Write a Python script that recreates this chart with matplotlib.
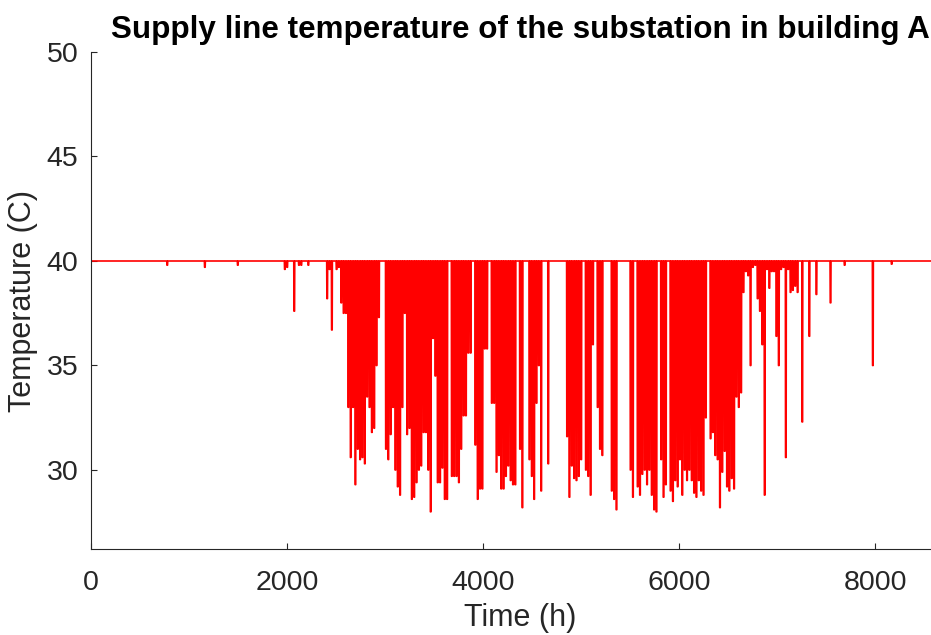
import numpy as np
import matplotlib.pyplot as plt

# --- data (daily minimum of the supply temperature) ---
# baseline supply temperature (C)
BASE_TEMP = 40.0

# heating-off season, one value per day starting at day 100
SEASON_START_DAY = 100
season_min = [
    38.2, 39.6, 36.7, 40.0, 39.6, 39.7, 38.0, 37.5, 37.5, 33.0,   # 100-109
    30.6, 33.0, 29.3, 31.0, 30.5, 30.6, 30.3, 33.5, 33.0, 31.8,   # 110-119
    32.0, 35.0, 37.3, 40.0, 40.0, 31.0, 30.5, 31.7, 33.0, 30.0,   # 120-129
    29.2, 28.8, 33.0, 37.5, 31.7, 32.0, 28.6, 28.7, 29.4, 30.0,   # 130-139
    30.2, 31.8, 31.8, 30.0, 28.0, 36.3, 34.5, 29.4, 29.4, 30.1,   # 140-149
    28.6, 28.6, 40.0, 29.7, 29.7, 29.7, 29.4, 31.0, 32.6, 32.6,   # 150-159
    35.6, 35.6, 40.0, 31.2, 28.6, 29.1, 29.1, 35.8, 35.8, 40.0,   # 160-169
    33.2, 33.2, 29.9, 30.7, 29.1, 29.1, 29.7, 30.2, 29.5, 29.3,   # 170-179
    29.3, 40.0, 31.0, 28.2, 40.0, 40.0, 30.5, 29.7, 28.6, 33.2,   # 180-189
    35.0, 29.0, 40.0, 40.0, 30.3, 40.0, 40.0, 40.0, 40.0, 40.0,   # 190-199
    40.0, 40.0, 31.6, 28.7, 30.2, 29.6, 29.5, 29.7, 30.5, 40.0,   # 200-209
    30.0, 29.7, 28.8, 36.0, 40.0, 33.0, 31.0, 30.7, 40.0, 40.0,   # 210-219
    40.0, 29.0, 28.6, 28.1, 40.0, 40.0, 40.0, 40.0, 40.0, 30.0,   # 220-229
    28.7, 40.0, 29.2, 28.8, 29.8, 30.0, 29.3, 30.0, 28.8, 28.1,   # 230-239
    28.0, 40.0, 30.5, 28.7, 29.3, 40.0, 29.0, 28.5, 29.5, 29.2,   # 240-249
    30.5, 28.8, 30.0, 29.5, 30.0, 29.5, 28.9, 28.7, 29.5, 29.0,   # 250-259
    28.8, 32.5, 40.0, 31.5, 31.8, 30.7, 30.5, 28.2, 29.9, 30.9,   # 260-269
    29.2, 29.0, 29.6, 29.1, 33.5, 33.0, 33.7, 38.5, 39.5, 39.3,   # 270-279
    35.0, 39.7, 39.8, 38.2, 37.6, 36.0, 28.8, 39.6, 38.7, 39.5,   # 280-289
    39.5, 36.4, 35.0, 39.6, 39.7, 30.6, 39.6, 38.5, 38.6, 38.8,   # 290-299
    38.5,                                                          # 300
]

# isolated dips outside the season
other_dip_days = [32, 48, 62, 82, 83, 86, 88, 89, 92, 302, 305, 308, 314, 320, 332, 340]
other_dip_min = [39.8, 39.7, 39.8, 39.6, 39.7, 37.6, 39.8, 39.8, 39.8,
                 32.3, 36.4, 38.4, 38.0, 39.8, 35.0, 39.85]

N_HOURS = 8760

# --- build the hourly series from the daily values ---
day_min = {SEASON_START_DAY + i: v for i, v in enumerate(season_min)}
day_min.update(dict(zip(other_dip_days, other_dip_min)))

hours = np.arange(N_HOURS)
temp = np.full(N_HOURS, BASE_TEMP)
for d, m in day_min.items():
    if m < BASE_TEMP:
        temp[24 * d + 6:24 * d + 14] = m

# --- plot ---
plt.rcParams['font.family'] = ['Liberation Sans', 'DejaVu Sans']
grey = '#262626'

fig = plt.figure(figsize=(9.31, 6.35), dpi=100)
ax = fig.add_axes([91 / 931, 1 - 549 / 635, 858.5 / 931, 497 / 635])

ax.plot(hours, temp, color='red', linewidth=1.2)

ax.set_xlim(0, N_HOURS)
ax.set_ylim(26.22, 50)
ax.set_xticks([0, 2000, 4000, 6000, 8000])
ax.set_yticks([30, 35, 40, 45, 50])

for side in ['top', 'right']:
    ax.spines[side].set_visible(False)
for side in ['left', 'bottom']:
    ax.spines[side].set_color(grey)
    ax.spines[side].set_linewidth(0.8)

ax.tick_params(axis='both', direction='in', length=4.5, width=0.8,
               colors=grey, labelsize=20.5)
ax.tick_params(axis='x', pad=15)
ax.tick_params(axis='y', pad=9)

ax.set_xlabel('Time (h)', fontsize=22, color=grey, labelpad=5)
ax.set_ylabel('Temperature (C)', fontsize=22, color=grey, labelpad=6)
ax.set_title('Supply line temperature of the substation in building A',
             fontsize=22.6, fontweight='bold', color='black', pad=10)

fig.savefig('out.png', dpi=100)
